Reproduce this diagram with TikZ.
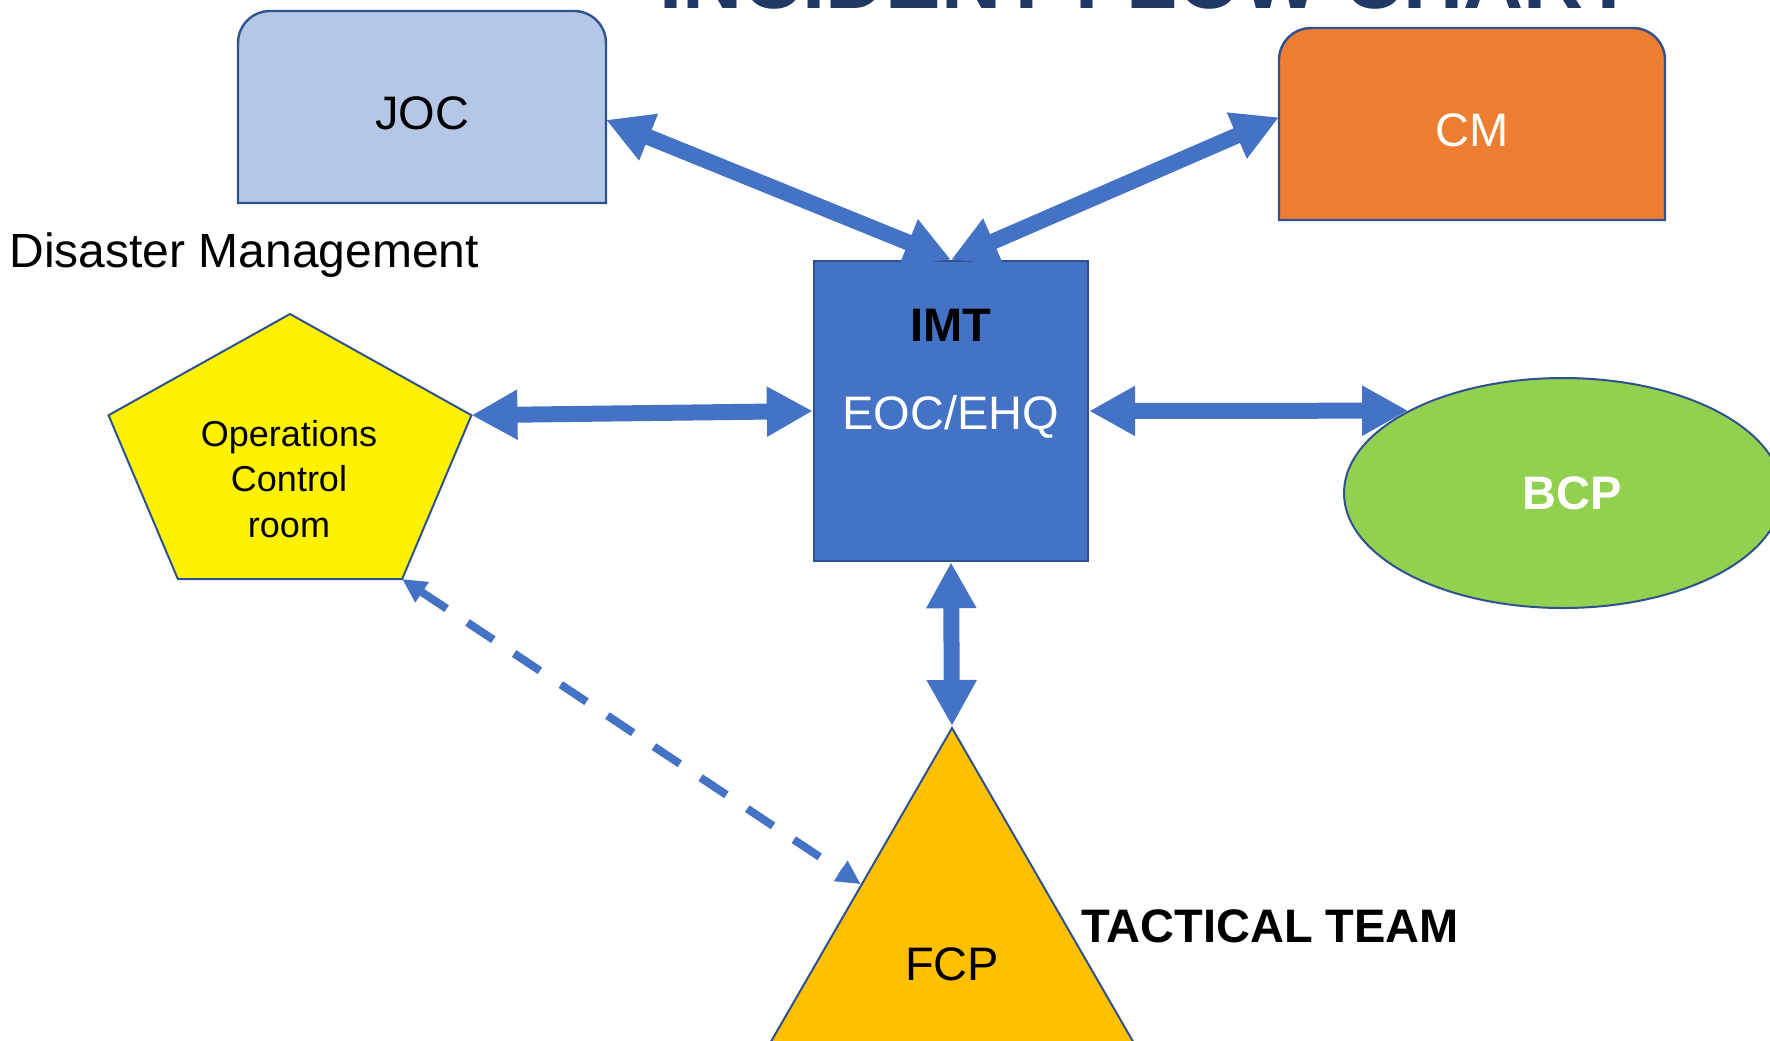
\documentclass[tikz,border=0pt]{standalone}
\usepackage{fontspec}
\setmainfont{Liberation Sans}
\usepackage{xcolor}
\usetikzlibrary{arrows.meta,shapes.geometric,backgrounds,calc}
\definecolor{arrblue}{HTML}{4472C4}
\definecolor{lineblue}{HTML}{2F528F}
\definecolor{jocblue}{HTML}{B4C7E7}
\definecolor{cmorange}{HTML}{ED7D31}
\definecolor{bcpgreen}{HTML}{92D050}
\definecolor{fcpgold}{HTML}{FFC000}
\definecolor{titlenavy}{HTML}{203864}

\begin{document}
\begin{tikzpicture}[x=0.5pt,y=-0.5pt,
                txt/.style={font=\fontsize{23.5}{28}\selectfont},
                txtbold/.style={font=\fontsize{23.5}{28}\selectfont\bfseries},
                outline/.style={draw=lineblue,line width=1.2pt},
                arr/.style={arrblue,line width=8pt,{Triangle[length=23pt,width=23.5pt]}-{Triangle[length=23pt,width=23.5pt]}},
                dasharr/.style={arrblue,line width=4pt,dash pattern=on 15.5pt off 12.5pt,{Triangle[length=12pt,width=11.5pt]}-{Triangle[length=12pt,width=11.5pt]}}]
                \useasboundingbox (0,0) rectangle (1770,1040);
                \clip (0,0) rectangle (1770,1040);
                \node[titlenavy,font=\fontsize{41.6}{48}\selectfont\bfseries,anchor=base] (title) at (1147,8.5) {INCIDENT FLOW CHART};
                \node[inner sep=0pt,outer sep=0pt,minimum width=184pt,minimum height=96pt,label={[txt,text=black,yshift=-3pt]center:JOC}] (joc) at (422,107) {};
                \node[inner sep=0pt,outer sep=0pt,minimum width=193pt,minimum height=96pt,label={[txt,text=white,yshift=-3pt]center:CM}] (cm) at (1472,124) {};
                \begin{scope}[on background layer]
                \draw[outline,fill=jocblue] (joc.south west) -- ([yshift=-16pt]joc.north west) arc[start angle=180,end angle=90,radius=16pt] -- ([xshift=-16pt]joc.north east) arc[start angle=90,end angle=0,radius=16pt] -- (joc.south east) -- cycle;
                \draw[outline,fill=cmorange] (cm.south west) -- ([yshift=-16pt]cm.north west) arc[start angle=180,end angle=90,radius=16pt] -- ([xshift=-16pt]cm.north east) arc[start angle=90,end angle=0,radius=16pt] -- (cm.south east) -- cycle;
                \end{scope}
                \node[outline,fill=arrblue,inner sep=0pt,minimum width=137pt,minimum height=150pt,label={[txt,text=white,text depth=0pt,yshift=-0.5pt]center:EOC/EHQ},label={[txtbold,text=black,yshift=43pt]center:IMT}] (imt) at (951,411) {};
                \coordinate (ocr-c) at (290,460.5);
                \draw[outline,line width=1pt,fill=yellow] ([shift={(-90:190.8 and 146.5)}]ocr-c) -- ([shift={(-18:190.8 and 146.5)}]ocr-c) coordinate (ocr-r) -- ([shift={(54:190.8 and 146.5)}]ocr-c) coordinate (ocr-br) -- ([shift={(126:190.8 and 146.5)}]ocr-c) -- ([shift={(198:190.8 and 146.5)}]ocr-c) -- cycle;
                \node[font=\fontsize{18}{22.6}\selectfont,align=center] (ocr) at (289,479) {Operations\\Control\\room};
                \node[ellipse,outline,line width=1pt,fill=bcpgreen,inner sep=0pt,minimum width=219pt,minimum height=115pt,label={[txtbold,text=white,xshift=4.5pt]center:BCP}] (bcp) at (1563,493) {};
                \node[regular polygon,regular polygon sides=3,outline,line width=1pt,fill=fcpgold,inner sep=0pt,minimum size=236pt,txt] (fcp) at (952,964) {FCP};
                \node[font=\fontsize{24}{28}\selectfont,anchor=base west,inner sep=0pt] (dm) at (9,267) {Disaster Management};
                \node[txtbold,anchor=base west,inner sep=0pt] (tt) at (1081,942) {TACTICAL TEAM};
                \draw[arr] (joc.-4) -- (imt.north);
                \draw[arr] (imt.north) -- (cm.178.5);
                \draw[arr] (ocr-r) -- (imt.west);
                \draw[arr] (imt.east) -- (bcp.152.6);
                \draw[arr] (imt.south) -- (fcp.corner 1);
                \draw[dasharr] (ocr-br) -- ($(fcp.corner 1)!0.443!(fcp.corner 2)$);
            \end{tikzpicture}
\end{document}
